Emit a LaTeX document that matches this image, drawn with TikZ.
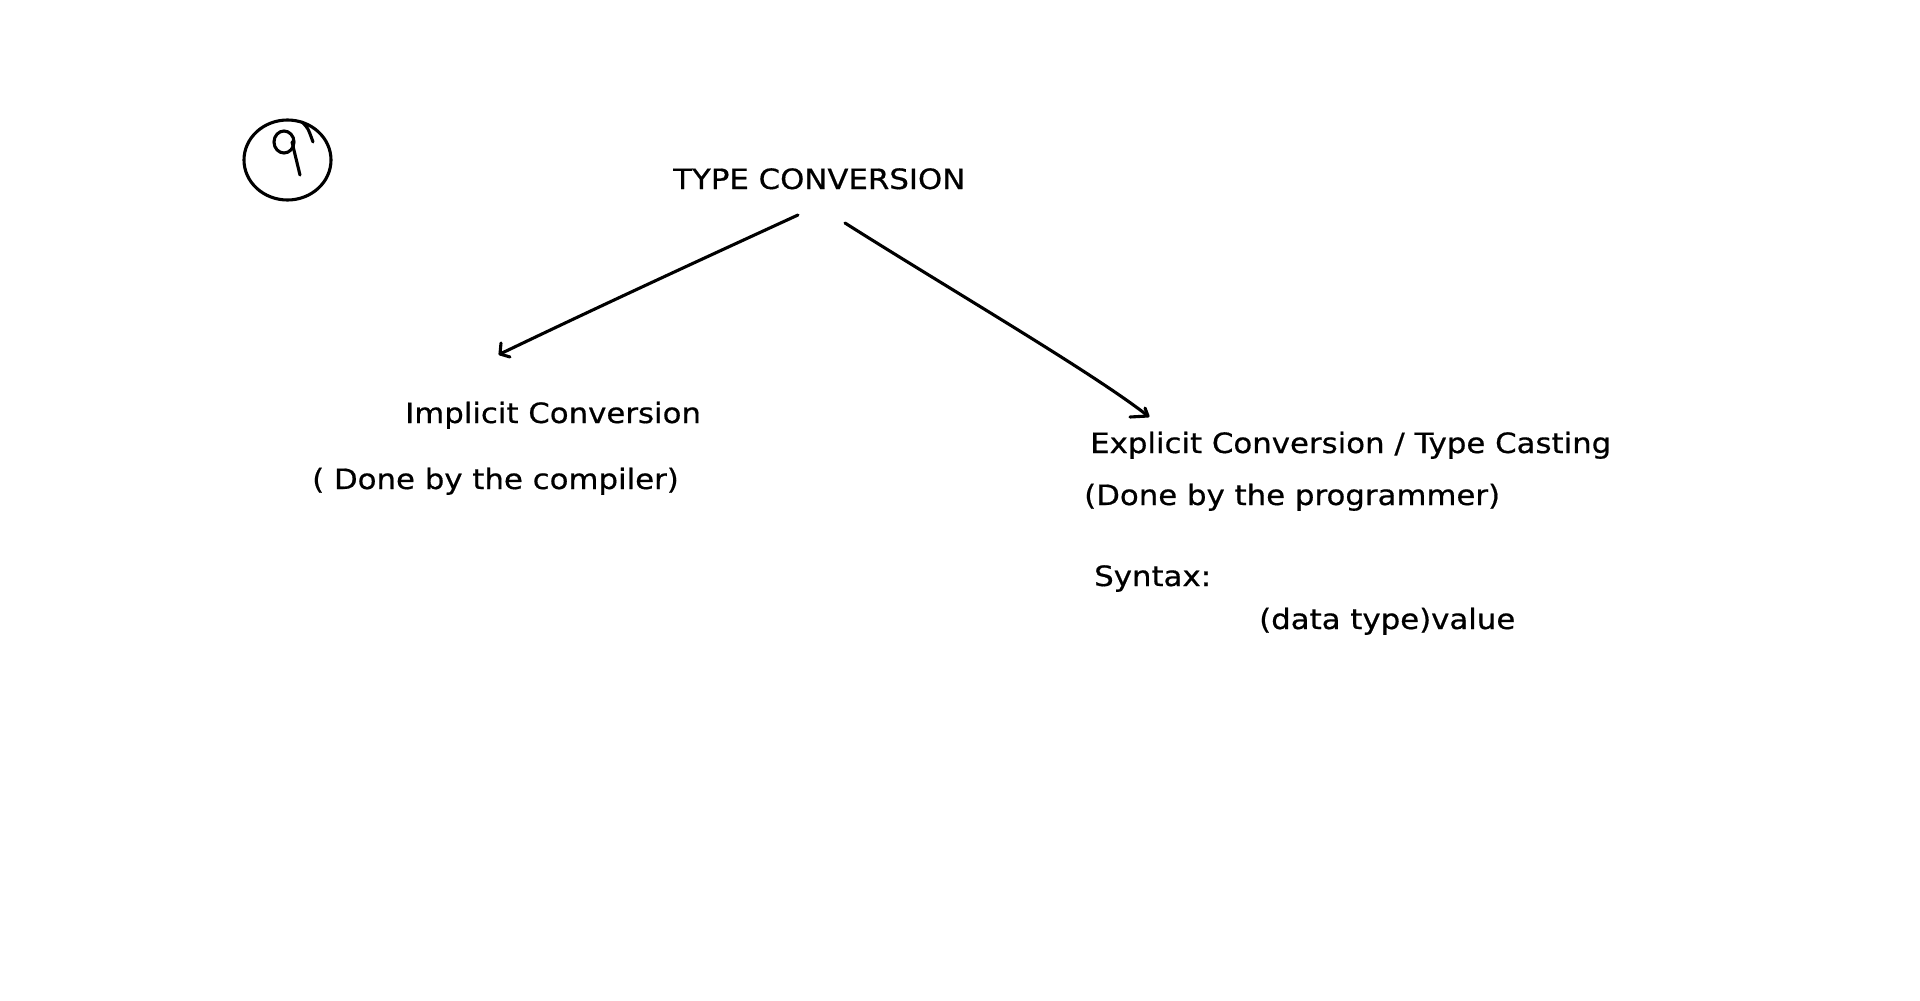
\documentclass[tikz,border=0pt]{standalone}
\usepackage{fontspec}
\setmainfont{DejaVu Sans}[FakeStretch=1.1,FakeBold=0.6]
\begin{document}
\begin{tikzpicture}[x=1pt,y=-1pt,
  lbl/.style={anchor=base west,inner sep=0pt,font=\fontsize{28}{33}\selectfont},
  ink/.style={line width=3.1pt,line cap=round,line join=round}]
\useasboundingbox[fill=white] (0,0) rectangle (1920,1001);
% circled mark
\draw[ink] (287.5,160) ellipse [x radius=43.5, y radius=40];
\draw[ink] (284,142) ellipse [x radius=10, y radius=11];
\draw[ink] (292,142) -- (300,175);
\draw[ink] (302,122) .. controls (308,128) .. (313,142);
% texts
\node[lbl] (tc) at (673,189) {TYPE CONVERSION};
\node[lbl] (imp) at (405,423) {Implicit Conversion};
\node[lbl] (impd) at (312,489) {( Done by the compiler)};
\node[lbl] (exp) at (1090,453) {Explicit Conversion / Type Casting};
\node[lbl] (expd) at (1084,505) {(Done by the programmer)};
\node[lbl] (syn) at (1094,586) {Syntax:};
\node[lbl] (val) at (1259,629) {(data type)value};
% arrow coordinates
\coordinate (ls) at (798,215);
\coordinate (le) at (500,354);
\coordinate (rs) at (845,223);
\coordinate (re) at (1148,416);
% left arrow
\draw[ink] (ls) .. controls (700,260) and (600,306) .. (le);
\draw[ink] (501,343) -- (le) -- (510,357);
% right arrow
\draw[ink] (rs) .. controls (946,287) and (1095,374) .. (re);
\draw[ink] (1130,417) -- (re) -- (1145,408);
\end{tikzpicture}
\end{document}
